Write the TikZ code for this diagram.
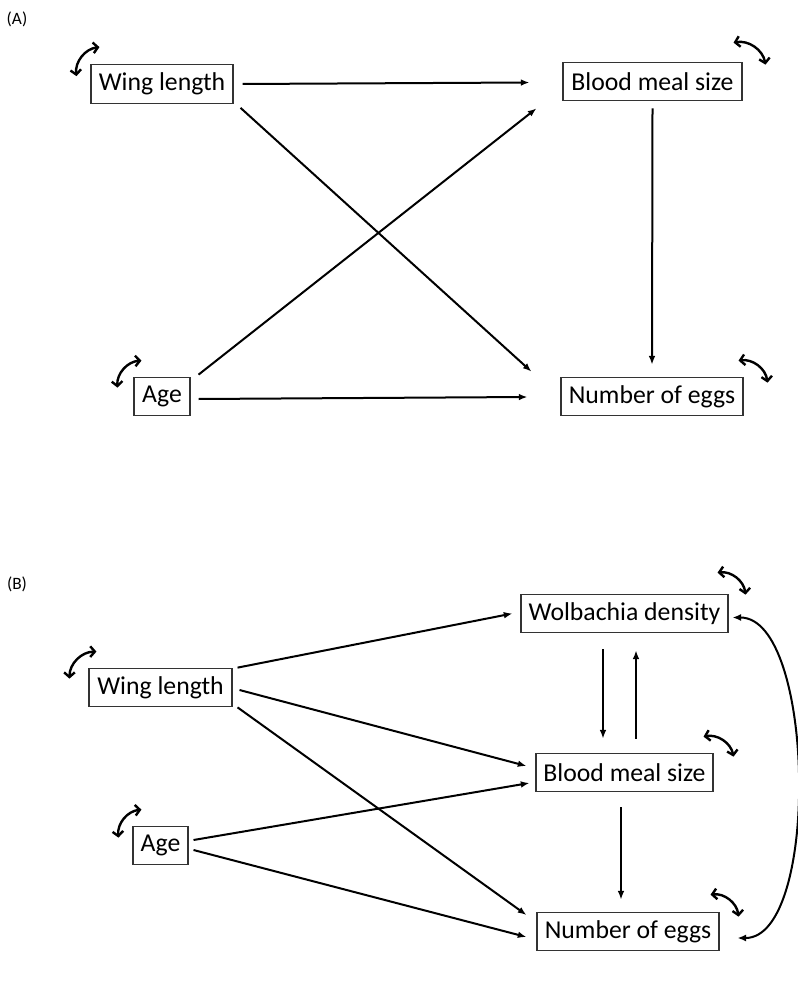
\documentclass[tikz,border=0pt]{standalone}
\usepackage{fontspec}
\setmainfont{Carlito}
\usetikzlibrary{arrows.meta}

\begin{document}
\begin{tikzpicture}[x=0.75pt, y=-0.75pt,
    var/.style={draw=black!80, line width=0.8pt, minimum height=29pt,
        inner xsep=2pt, inner ysep=0pt, font=\fontsize{19.3}{22}\selectfont},
    effect/.style={-{Latex[length=6.5pt,width=5pt]}, line width=1.5pt},
    corr/.style={{Latex[length=6.5pt,width=5.5pt]}-{Latex[length=6.5pt,width=5.5pt]}, line width=1.5pt},
    cov/.style={{Straight Barb[length=3.5pt,width=8pt]}-{Straight Barb[length=3.5pt,width=8pt]},
        line width=1.8pt, bend left=45}]

    \useasboundingbox (0,0) rectangle (798,998);

    % Panel labels
    \node[font=\fontsize{13}{15}\selectfont] (labA) at (17,19) {(A)};
    \node[font=\fontsize{13}{15}\selectfont] (labB) at (17,584) {(B)};

    % (A) variables
    \node[var, minimum width=106.5pt] (wlA) at (162,84) {Wing length};
    \node[var, minimum width=134.25pt] (bmA) at (652.5,81.5) {Blood meal size};
    \node[var, minimum width=42pt] (agA) at (162,396.5) {Age};
    \node[var, minimum width=136.5pt] (neA) at (652,396.5) {Number of eggs};

    % (A) paths
    \draw[effect] ([shift={(9,0)}]wlA.east) -- ([shift={(-33,1)}]bmA.west);
    \draw[effect] ([shift={(7,4)}]wlA.south east) -- ([shift={(-29,-5)}]neA.north west);
    \draw[effect] ([shift={(8,-2)}]agA.north east) -- ([shift={(-26,7)}]bmA.south west);
    \draw[effect] ([shift={(8,2.5)}]agA.east) -- ([shift={(-33,0.5)}]neA.west);
    \draw[effect] ([shift={(0,7)}]bmA.south) -- ([shift={(0,-12)}]neA.north);

    % (A) variances
    \draw[cov] ([shift={(-14,12)}]wlA.north west) to ([shift={(9,-17)}]wlA.north west);
    \draw[cov] ([shift={(-9,-19)}]bmA.north east) to ([shift={(23,3)}]bmA.north east);
    \draw[cov] ([shift={(-16,11)}]agA.north west) to ([shift={(8,-16)}]agA.north west);
    \draw[cov] ([shift={(-5,-16)}]neA.north east) to ([shift={(24,6)}]neA.north east);

    % (B) variables
    \node[var, minimum width=107.25pt] (wlB) at (160.5,687.5) {Wing length};
    \node[var, minimum width=155.25pt] (wdB) at (624.5,613.5) {Wolbachia density};
    \node[var, minimum width=132.75pt] (bmB) at (624.5,772.5) {Blood meal size};
    \node[var, minimum width=41.25pt] (agB) at (160.5,845.5) {Age};
    \node[var, minimum width=136.5pt] (neB) at (628,931.5) {Number of eggs};

    % (B) paths
    \draw[effect] ([shift={(5,0)}]wlB.north east) -- ([shift={(-8,0)}]wdB.west);
    \draw[effect] ([shift={(7,2.5)}]wlB.east) -- ([shift={(-9,-6.5)}]bmB.west);
    \draw[effect] ([shift={(5,0)}]wlB.south east) -- ([shift={(-10,-16.5)}]neB.west);
    \draw[effect] ([shift={(5,-5.5)}]agB.east) -- ([shift={(-6,10.5)}]bmB.west);
    \draw[effect] ([shift={(5,4.5)}]agB.east) -- ([shift={(-10,5.5)}]neB.west);
    \draw[effect] ([shift={(-21.5,16)}]wdB.south) -- ([shift={(-21.5,-14)}]bmB.north);
    \draw[effect] ([shift={(11.5,-14)}]bmB.north) -- ([shift={(11.5,17)}]wdB.south);
    \draw[effect] ([shift={(-3.5,15)}]bmB.south) -- ([shift={(-7,-12)}]neB.north);
    \draw[corr] ([shift={(4,4)}]wdB.east) to[out=0, in=0, looseness=0.66] ([shift={(18,6.5)}]neB.east);

    % (B) variances
    \draw[cov] ([shift={(-19,11)}]wlB.north west) to ([shift={(8,-16)}]wlB.north west);
    \draw[cov] ([shift={(-11,-21)}]wdB.north east) to ([shift={(17,1)}]wdB.north east);
    \draw[cov] ([shift={(-10,-16)}]bmB.north east) to ([shift={(20,4)}]bmB.north east);
    \draw[cov] ([shift={(-14,12)}]agB.north west) to ([shift={(9,-16)}]agB.north west);
    \draw[cov] ([shift={(-9,-17)}]neB.north east) to ([shift={(19,5)}]neB.north east);

\end{tikzpicture}
\end{document}
